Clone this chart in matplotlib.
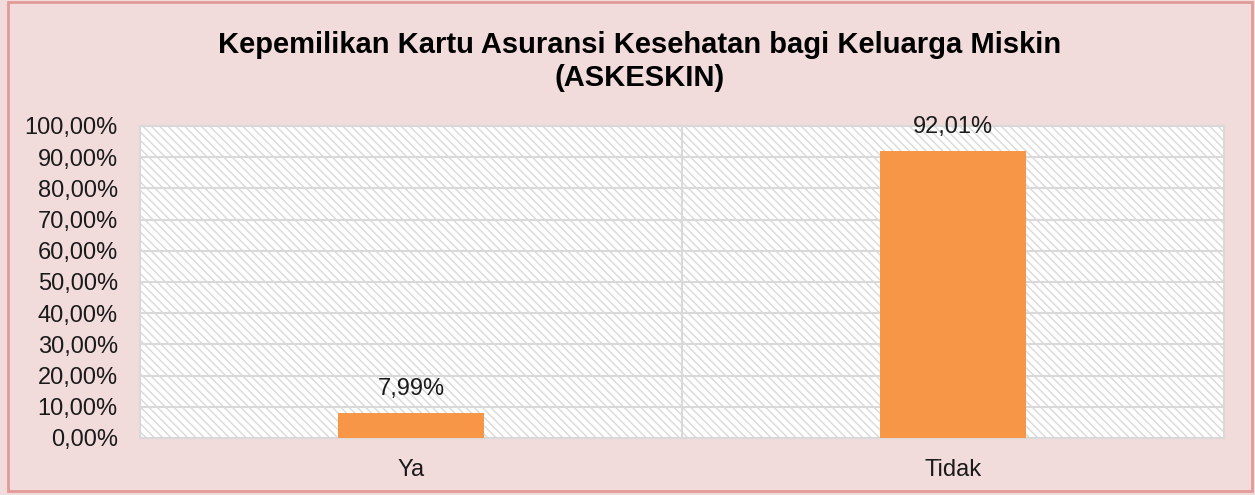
import matplotlib.pyplot as plt
from matplotlib.patches import Rectangle

categories = ['Ya', 'Tidak']
values = [7.99, 92.01]
value_labels = ['7,99%', '92,01%']
yticks = [0, 10, 20, 30, 40, 50, 60, 70, 80, 90, 100]
ytick_labels = ['%d,00%%' % t for t in yticks]
title = 'Kepemilikan Kartu Asuransi Kesehatan bagi Keluarga Miskin\n(ASKESKIN)'


def main():
    plt.rcParams['font.family'] = ['Liberation Sans', 'DejaVu Sans']
    plt.rcParams['hatch.color'] = '#d9d9d9'
    plt.rcParams['hatch.linewidth'] = 1.0

    fig = plt.figure(figsize=(12.55, 4.95), dpi=100)
    fig.patch.set_facecolor('#f2dcdb')
    fig.patches.append(Rectangle((0.0065, 0.0075), 0.991, 0.9885, transform=fig.transFigure,
                                 fill=False, edgecolor='#e29a99', linewidth=2, zorder=10))

    ax = fig.add_axes([0.1116, 0.1152, 0.8637, 0.6303])
    ax.set_facecolor('white')
    ax.add_patch(Rectangle((0, 0), 1, 1, transform=ax.transAxes, facecolor='white',
                           edgecolor='#d9d9d9', hatch='\\\\\\\\', linewidth=0, zorder=0))

    x = range(len(categories))
    ax.bar(x, values, width=0.27, color='#f79646', zorder=3)
    for xi, v, lab in zip(x, values, value_labels):
        ax.annotate(lab, (xi, v), xytext=(0, 17), textcoords='offset points',
                    ha='center', va='center', fontsize=17, color='#1a1a1a', zorder=4)

    ax.set_xlim(-0.5, 1.5)
    ax.set_ylim(0, 100)
    ax.set_yticks(yticks)
    ax.set_yticklabels(ytick_labels, fontsize=17)
    ax.set_xticks(list(x))
    ax.set_xticklabels(categories, fontsize=17)
    ax.tick_params(length=0, colors='#1a1a1a')
    ax.tick_params(axis='y', pad=16)
    ax.tick_params(axis='x', pad=15)

    ax.grid(axis='y', color='#d9d9d9', linewidth=1.5, zorder=1)
    ax.axvline(0.5, color='#d9d9d9', linewidth=1.5, zorder=1)
    for s in ax.spines.values():
        s.set_color('#d9d9d9')
        s.set_linewidth(1.5)

    fig.text(0.51, 0.876, title, ha='center', va='center', fontsize=21, fontweight='bold',
             linespacing=1.2)

    plt.savefig('out.png', dpi=100, facecolor=fig.get_facecolor())


if __name__ == "__main__":
    main()
